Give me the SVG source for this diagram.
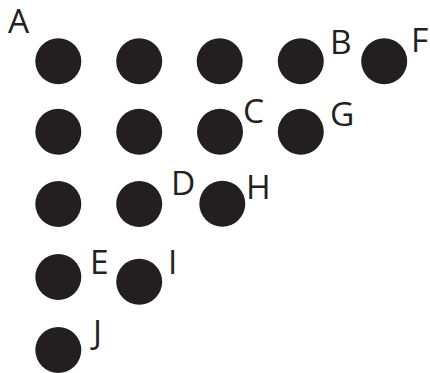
<svg xmlns="http://www.w3.org/2000/svg" width="430" height="373" viewBox="0 0 430 373">
<style>
.dot{fill:#231f20}
.lbl{font-family:"Open Sans","Liberation Sans",sans-serif;font-size:33.5px;fill:#231f20}
</style>
<rect width="430" height="373" fill="#fff"/>
<g id="n1"><circle class="dot" cx="58.3" cy="61.3" r="23"/><text class="lbl" x="8" y="33">A</text></g>
<g id="n2"><circle class="dot" cx="139.2" cy="61.3" r="23"/></g>
<g id="n3"><circle class="dot" cx="219.7" cy="61.3" r="23"/></g>
<g id="n4"><circle class="dot" cx="300.8" cy="61.3" r="23"/><text class="lbl" x="330" y="54.3">B</text></g>
<g id="n5"><circle class="dot" cx="384.2" cy="61.3" r="23"/><text class="lbl" x="411" y="52.3">F</text></g>
<g id="n6"><circle class="dot" cx="58.3" cy="131.7" r="23"/></g>
<g id="n7"><circle class="dot" cx="139.2" cy="131.7" r="23"/></g>
<g id="n8"><circle class="dot" cx="220" cy="131.7" r="23"/><text class="lbl" x="243" y="122.5">C</text></g>
<g id="n9"><circle class="dot" cx="300.8" cy="131.7" r="23"/><text class="lbl" x="330" y="126">G</text></g>
<g id="n10"><circle class="dot" cx="58.3" cy="204" r="23"/></g>
<g id="n11"><circle class="dot" cx="139.2" cy="204" r="23"/><text class="lbl" x="171" y="195">D</text></g>
<g id="n12"><circle class="dot" cx="222.3" cy="203.8" r="23"/><text class="lbl" x="246" y="199">H</text></g>
<g id="n13"><circle class="dot" cx="58.3" cy="277" r="23"/><text class="lbl" x="90" y="273.5">E</text></g>
<g id="n14"><circle class="dot" cx="139.2" cy="281.7" r="23"/><text class="lbl" x="168" y="274">I</text></g>
<g id="n15"><circle class="dot" cx="58.3" cy="350" r="23"/><text class="lbl" x="93" y="344">J</text></g>
</svg>
